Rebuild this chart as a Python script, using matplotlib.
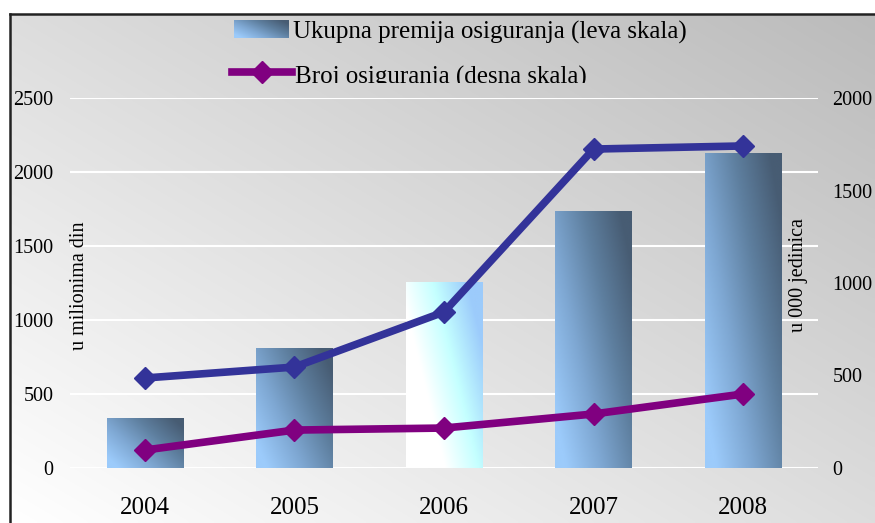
import numpy as np
import matplotlib
matplotlib.use("Agg")
import matplotlib.pyplot as plt
from matplotlib.colors import LinearSegmentedColormap
from matplotlib.lines import Line2D
import matplotlib.transforms as mtransforms

# ---- data ----
years = ["2004", "2005", "2006", "2007", "2008"]
premium = [338, 811, 1257, 1736, 2128]          # bars, left scale
blue_series = [608, 682, 1054, 2155, 2176]      # blue line, left scale
policies = [97, 205, 216, 292, 400]             # purple line, right scale
left_ticks = [0, 500, 1000, 1500, 2000, 2500]
right_ticks = [0, 500, 1000, 1500, 2000]

W, H = 875, 523
plt.rcParams['font.family'] = ['Liberation Serif', 'DejaVu Serif']
fig = plt.figure(figsize=(W / 100, H / 100), dpi=100)
fig.patch.set_facecolor('white')

# ---- background gradient (frame starts at x=10, y=14 from top) ----
bg = fig.add_axes([10 / W, 0, 1 - 10 / W, 1 - 14 / H], zorder=-10)
bg.set_axis_off()
nx, ny = 200, 200
gx = np.linspace(0, 1, nx)[None, :]
gy = np.linspace(0, 1, ny)[:, None]  # 0 = top
img = 255 - 34 * gx - 34 * (1 - gy)
img = np.clip(img, 0, 255) / 255.0
bg.imshow(np.dstack([img, img, img]), aspect='auto', extent=[0, 1, 0, 1],
          origin='upper', interpolation='bicubic')
bg.set_xlim(0, 1)
bg.set_ylim(0, 1)
fig.add_artist(Line2D([10 / W, 1], [1 - 14 / H, 1 - 14 / H], color='#222222', lw=1.8))
fig.add_artist(Line2D([10 / W, 10 / W], [0, 1 - 14 / H], color='#222222', lw=1.8))

# ---- main axes ----
L, R, B, T = 70 / W, 818 / W, (H - 468) / H, (H - 98) / H
ax = fig.add_axes([L, B, R - L, T - B])
ax.patch.set_alpha(0)
ax2 = ax.twinx()
ax2.patch.set_alpha(0)

x = np.arange(len(years))
ax.set_xlim(-0.5, len(years) - 0.5)
ax.set_ylim(0, 2500)
ax2.set_ylim(0, 2000)

for a in (ax, ax2):
    for s in a.spines.values():
        s.set_visible(False)
    a.tick_params(length=0)

ax.set_yticks(left_ticks)
ax.set_yticklabels([str(t) for t in left_ticks], fontsize=14.5)
ax2.set_yticks(right_ticks)
ax2.set_yticklabels([str(t) for t in right_ticks], fontsize=14.5)
ax.tick_params(axis='y', pad=12)
ax2.tick_params(axis='y', pad=10.5)
ax.set_xticks(x)
ax.set_xticklabels(years, fontsize=18)
ax.tick_params(axis='x', pad=21)

ax.yaxis.grid(True, color='white', lw=1.5, zorder=0)
ax.set_axisbelow(True)

fig.text(79 / W, 1 - 286 / H, "u milionima din", fontsize=14.5, rotation=90,
         ha='center', va='center')
fig.text(799 / W, 1 - 275 / H, "u 000 jedinica", fontsize=14.5, rotation=90,
         ha='center', va='center')

# ---- gradient bars ----
bar_cmap = LinearSegmentedColormap.from_list('bar', ['#9ccbfb', '#7ea7d2', '#5e7f9f', '#475c73'])
white_cmap = LinearSegmentedColormap.from_list('wbar', ['#ffffff', '#ffffff', '#c4ffff', '#9ccbfb'])
bars = ax.bar(x, premium, width=0.51, color='none', zorder=2)
gxx = np.linspace(0, 1, 100)[None, :]
gyy = np.linspace(0, 1, 100)[:, None]
for i, b in enumerate(bars):
    x0, y0 = b.get_x(), b.get_y()
    w, h = b.get_width(), b.get_height()
    if i == 2:
        t = np.clip(0.75 * gxx + 0.45 * gyy - 0.05, 0, 1)
        cm = white_cmap
    else:
        t = np.clip(0.7 * gxx + 0.5 * gyy - 0.1, 0, 1)
        cm = bar_cmap
    im = ax.imshow(t, cmap=cm, vmin=0, vmax=1, aspect='auto', origin='lower',
                   extent=[x0, x0 + w, y0, y0 + h], zorder=2, interpolation='bilinear')
    im.set_clip_path(b)
ax.set_xlim(-0.5, len(years) - 0.5)
ax.set_ylim(0, 2500)

# ---- lines ----
ax2.plot(x, [v * 2000 / 2500 for v in blue_series], color='#333399', lw=5.5,
         marker='D', ms=11, zorder=4)
ax2.plot(x, policies, color='#800080', lw=5.5, marker='D', ms=11, zorder=4)

# ---- legend (manual, partially clipped) ----
clip = mtransforms.Bbox.from_extents(0, 1 - 83 / H, 1, 1 - 15 / H)
clip_t = mtransforms.TransformedBbox(clip, fig.transFigure)
leg_patch_ax = fig.add_axes([234 / W, 1 - 38 / H, 54 / W, 18 / H], zorder=5)
leg_patch_ax.set_axis_off()
leg_patch_ax.imshow(np.clip(0.7 * gxx + 0.5 * (1 - gyy) - 0.1, 0, 1), cmap=bar_cmap,
                    vmin=0, vmax=1, aspect='auto', origin='upper', extent=[0, 1, 0, 1])
leg_patch_ax.set_xlim(0, 1)
leg_patch_ax.set_ylim(0, 1)
fig.text(293 / W, 1 - 32 / H, "Ukupna premija osiguranja (leva skala)", fontsize=18,
         va='center', ha='left')
ly = 1 - 72 / H
fig.add_artist(Line2D([232 / W, 292 / W], [ly, ly], color='#800080', lw=5.5))
fig.add_artist(Line2D([262 / W], [ly], color='#800080', marker='D', ms=11, lw=0))
t2 = fig.text(295 / W, 1 - 77 / H, "Broj osiguranja (desna skala)", fontsize=18,
              va='center', ha='left')
t2.set_clip_box(clip_t)
t2.set_clip_on(True)

fig.savefig("out.png", dpi=100)
